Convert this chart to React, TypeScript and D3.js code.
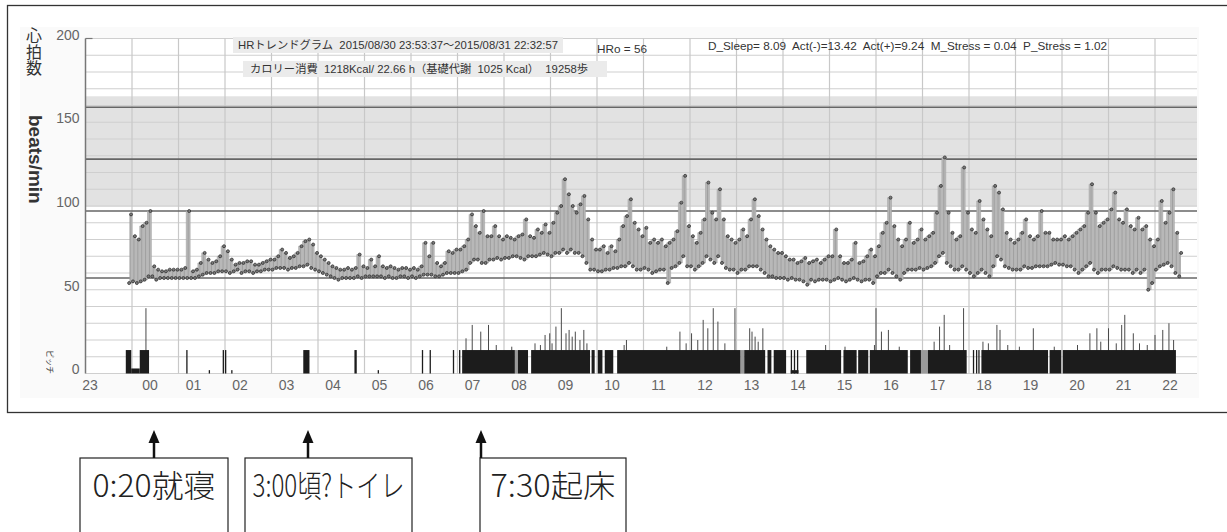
import React, { useEffect, useRef } from 'react';
import * as d3 from 'd3';

// hour labels along the x axis (23:00 -> 22:00 next day)
const hourLabels = ['23', '00', '01', '02', '03', '04', '05', '06', '07', '08', '09', '10', '11', '12', '13', '14', '15', '16', '17', '18', '19', '20', '21', '22'];
const yTickValues = [0, 50, 100, 150, 200];
const gridStep = 10;
const zoneBand = [99.5, 165.5];
const zoneLines = [159, 128, 97, 57];

// heart rate, 5-minute bins starting at hrStart (low / high of each bin)
const hrStart = '23:55';
const hrLow = [
  54,
  55, 54, 55, 56, 58, 58, 56, 57, 57, 57, 57, 57, // 00
  57, 57, 57, 57, 57, 58, 59, 60, 60, 60, 61, 61, // 01
  61, 60, 61, 62, 60, 61, 61, 60, 61, 61, 62, 62, // 02
  62, 63, 63, 63, 62, 63, 63, 64, 64, 65, 63, 62, // 03
  61, 60, 59, 58, 57, 56, 57, 57, 57, 57, 58, 57, // 04
  58, 58, 58, 58, 58, 57, 58, 57, 57, 58, 58, 57, // 05
  58, 57, 58, 59, 59, 59, 58, 58, 59, 60, 60, 60, // 06
  60, 61, 62, 66, 68, 68, 66, 66, 68, 68, 69, 68, // 07
  69, 69, 70, 70, 69, 68, 70, 70, 70, 71, 72, 71, // 08
  70, 72, 72, 74, 72, 74, 72, 72, 70, 66, 62, 62, // 09
  61, 61, 62, 62, 63, 63, 64, 64, 66, 64, 62, 62, // 10
  63, 62, 60, 61, 62, 62, 54, 63, 64, 66, 70, 64, // 11
  64, 62, 64, 66, 70, 68, 66, 70, 66, 63, 62, 62, // 12
  60, 62, 62, 64, 64, 64, 62, 60, 58, 58, 57, 57, // 13
  57, 56, 57, 56, 56, 55, 53, 56, 55, 56, 56, 56, // 14
  55, 56, 57, 56, 55, 56, 57, 56, 55, 56, 56, 54, // 15
  58, 60, 60, 62, 60, 58, 56, 60, 62, 62, 62, 63, // 16
  62, 63, 64, 66, 70, 72, 66, 64, 62, 62, 64, 62, // 17
  60, 58, 60, 62, 60, 58, 64, 70, 68, 64, 63, 62, // 18
  62, 62, 64, 63, 63, 64, 64, 64, 64, 65, 66, 65, // 19
  65, 64, 64, 62, 60, 62, 64, 66, 62, 60, 62, 62, // 20
  62, 64, 63, 62, 62, 62, 60, 62, 60, 62, 50, 54, // 21
  62, 64, 65, 66, 64, 60, 58, // 22
];
const hrHigh = [
  95,
  82, 80, 88, 90, 97, 64, 62, 61, 61, 62, 62, 62, // 00
  62, 63, 97, 61, 62, 66, 72, 68, 66, 67, 70, 76, // 01
  73, 68, 65, 66, 66, 67, 67, 65, 65, 66, 67, 68, // 02
  68, 70, 74, 72, 69, 70, 72, 76, 79, 80, 77, 72, // 03
  70, 68, 66, 64, 63, 62, 62, 63, 62, 63, 71, 64, // 04
  63, 68, 64, 70, 64, 63, 64, 63, 62, 63, 63, 62, // 05
  63, 62, 64, 78, 70, 78, 66, 64, 66, 73, 72, 74, // 06
  74, 76, 80, 95, 88, 84, 97, 82, 82, 88, 82, 80, // 07
  82, 81, 80, 82, 83, 92, 82, 81, 86, 84, 89, 84, // 08
  90, 96, 100, 116, 107, 100, 96, 101, 106, 92, 80, 74, // 09
  74, 76, 72, 76, 73, 80, 88, 94, 104, 90, 86, 82, // 10
  87, 78, 80, 78, 80, 76, 78, 80, 85, 102, 118, 88, // 11
  82, 78, 84, 92, 114, 96, 92, 110, 92, 82, 80, 78, // 12
  80, 86, 82, 92, 104, 94, 86, 80, 76, 74, 72, 72, // 13
  70, 68, 68, 66, 67, 69, 66, 67, 68, 66, 68, 70, // 14
  70, 86, 70, 66, 66, 68, 78, 66, 67, 70, 74, 70, // 15
  76, 84, 90, 105, 88, 80, 76, 80, 90, 78, 80, 86, // 16
  80, 82, 84, 96, 112, 129, 96, 84, 80, 82, 123, 96, // 17
  86, 84, 103, 92, 86, 82, 112, 108, 98, 84, 80, 78, // 18
  80, 84, 92, 82, 80, 82, 97, 84, 84, 80, 80, 80, // 19
  82, 80, 82, 84, 86, 88, 96, 113, 96, 88, 90, 92, // 20
  98, 108, 92, 90, 98, 88, 86, 93, 86, 88, 80, 76, // 21
  80, 103, 90, 96, 110, 84, 72, // 22
];

// step pitch: solid blocks [start, end, height]
const pitchBlocks: [string, string, number][] = [
  ['23:52', '23:59', 14], ['23:59', '00:10', 3], ['00:10', '00:22', 14],
  ['01:10', '01:11', 14], ['01:39', '01:40', 2], ['01:57', '01:58', 14], ['02:00', '02:01', 14], ['02:08', '02:09', 2],
  ['03:41', '03:49', 14], ['04:47', '04:50', 14], ['05:17', '05:18', 2],
  ['06:14', '06:15', 14], ['06:24', '06:25', 14], ['06:54', '06:55', 14], ['07:02', '07:03', 14],
  ['07:06', '08:14', 14], ['08:18', '08:31', 14], ['08:35', '09:51', 14],
  ['09:53', '09:57', 14], ['10:01', '10:07', 14], ['10:10', '10:21', 14], ['10:26', '13:05', 14],
  ['13:10', '13:37', 14], ['13:40', '13:45', 14], ['13:48', '14:04', 14],
  ['14:10', '14:20', 2], ['14:10', '14:11', 14], ['14:14', '14:15', 14], ['14:18', '14:19', 14],
  ['14:30', '15:15', 14], ['15:18', '15:35', 14], ['15:37', '15:50', 14], ['15:52', '16:41', 14],
  ['16:44', '16:58', 14], ['17:07', '17:57', 14],
  ['18:05', '18:06', 14], ['18:09', '18:10', 14], ['18:12', '18:13', 14],
  ['18:16', '19:42', 14], ['19:44', '19:59', 14], ['20:01', '22:27', 14],
];
const pitchGrayBlocks: [string, string, number][] = [
  ['08:14', '08:18', 14], ['16:58', '17:07', 14], ['13:05', '13:10', 14],
];
// step pitch peaks above the blocks [time, value]
const pitchSpikes: [string, number][] = [
  ['00:18', 39], ['07:11', 21], ['07:19', 29], ['07:30', 25], ['07:40', 29], ['07:50', 17],
  ['08:10', 16], ['08:40', 18], ['08:47', 17], ['08:53', 23], ['08:59', 24], ['09:02', 18], ['09:07', 28],
  ['09:14', 39], ['09:20', 24], ['09:24', 26], ['09:28', 22], ['09:32', 25], ['09:38', 20], ['09:43', 26],
  ['09:47', 18], ['10:35', 17], ['10:38', 20], ['11:30', 16], ['11:47', 25], ['11:55', 18], ['12:02', 24],
  ['12:10', 20], ['12:17', 32], ['12:23', 27], ['12:30', 39], ['12:36', 31], ['12:45', 18], ['12:58', 39],
  ['13:17', 27], ['13:20', 25], ['13:24', 22], ['13:28', 19], ['13:34', 27], ['14:55', 17], ['15:20', 16],
  ['15:58', 17], ['16:00', 39], ['16:07', 25], ['16:16', 26], ['16:30', 16], ['17:15', 19], ['17:22', 28],
  ['17:28', 35], ['17:35', 17], ['17:53', 39], ['18:18', 19], ['18:25', 18], ['18:36', 29], ['18:40', 26],
  ['18:50', 17], ['19:05', 16], ['19:23', 27], ['19:50', 16], ['20:20', 17], ['20:36', 24], ['20:45', 27],
  ['20:50', 19], ['21:00', 27], ['21:10', 18], ['21:17', 29], ['21:21', 35], ['21:32', 24], ['21:40', 18],
  ['21:50', 17], ['22:00', 23], ['22:10', 26], ['22:18', 30], ['22:24', 20],
];

const titleLine = 'HRトレンドグラム  2015/08/30 23:53:37～2015/08/31 22:32:57';
const calorieLine = 'カロリー消費  1218Kcal/ 22.66 h（基礎代謝  1025 Kcal）  19258歩';
const hroLine = 'HRo = 56';
const statsLine = 'D_Sleep= 8.09  Act(-)=13.42  Act(+)=9.24  M_Stress = 0.04  P_Stress = 1.02';
const notes = ['0:20就寝', '3:00頃?トイレ', '7:30起床'];

const toHours = (s: string) => {
  const [hh, mm] = s.split(':').map(Number);
  const h = hh + mm / 60;
  return hh === 23 ? h - 23 : h + 1;
};

const App: React.FC = () => {
  const ref = useRef<SVGSVGElement>(null);

  useEffect(() => {
    if (!ref.current) return;
    const svg = d3.select(ref.current);
    svg.selectAll('*').remove();

    const width = 1227;
    const height = 532;
    const plotLeft = 85.5;
    const plotRight = 1197;
    const font = '"Liberation Sans", Arial, "Noto Sans CJK JP", sans-serif';
    const jpFont = '"Liberation Sans", "Noto Sans CJK JP", sans-serif';
    const cjk = '"Noto Sans CJK JP", sans-serif';

    svg.attr('width', width).attr('height', height);

    const x = d3.scaleLinear().domain([0, 24]).range([plotLeft, plotLeft + 46.5 * 24]);
    const y = d3.scaleLinear().domain([0, 200]).range([373.5, 38.5]);

    // outer frame
    svg.append('rect')
      .attr('x', 7.5).attr('y', 5.5).attr('width', 1230).attr('height', 407)
      .attr('fill', '#fff').attr('stroke', '#333').attr('stroke-width', 1.3);

    // light panel
    svg.append('rect')
      .attr('x', 20).attr('y', 27).attr('width', plotRight - 20 + 2).attr('height', 371)
      .attr('fill', '#fafafa');

    const g = svg.append('g');

    g.append('rect')
      .attr('x', plotLeft).attr('y', y(200)).attr('width', plotRight - plotLeft).attr('height', y(0) - y(200))
      .attr('fill', '#fff');

    // gray zone
    g.append('rect')
      .attr('x', plotLeft).attr('y', y(zoneBand[1]))
      .attr('width', plotRight - plotLeft).attr('height', y(zoneBand[0]) - y(zoneBand[1]))
      .attr('fill', '#e2e2e2');

    // horizontal grid
    const levels = d3.range(0, 201, gridStep);
    g.selectAll('.hgrid')
      .data(levels)
      .enter()
      .append('line')
      .attr('x1', plotLeft).attr('x2', plotRight)
      .attr('y1', d => y(d)).attr('y2', d => y(d))
      .attr('stroke', '#cfcfcf').attr('stroke-width', 1.1);

    // vertical hour grid
    g.selectAll('.vgrid')
      .data(hourLabels.slice(1).map((_, i) => i + 1))
      .enter()
      .append('line')
      .attr('x1', d => x(d)).attr('x2', d => x(d))
      .attr('y1', y(200)).attr('y2', y(0))
      .attr('stroke', '#c8c8c8').attr('stroke-width', 1.2);

    // zone lines
    g.selectAll('.zline')
      .data(zoneLines)
      .enter()
      .append('line')
      .attr('x1', plotLeft).attr('x2', plotRight)
      .attr('y1', d => y(d)).attr('y2', d => y(d))
      .attr('stroke', '#666').attr('stroke-width', 1.6);

    // y axis line + top tick
    g.append('line')
      .attr('x1', plotLeft).attr('x2', plotLeft)
      .attr('y1', y(200)).attr('y2', y(0))
      .attr('stroke', '#777').attr('stroke-width', 1.5);
    g.append('line')
      .attr('x1', plotLeft).attr('x2', plotLeft + 7)
      .attr('y1', y(200)).attr('y2', y(200))
      .attr('stroke', '#777').attr('stroke-width', 1.2);

    g.selectAll('.ylab')
      .data(yTickValues)
      .enter()
      .append('text')
      .attr('x', plotLeft - 6)
      .attr('y', d => y(d) + (d === 0 ? 0 : 1))
      .attr('text-anchor', 'end')
      .style('font-family', font)
      .style('font-size', '14px')
      .style('fill', '#666')
      .text(d => String(d));

    g.selectAll('.xlab')
      .data(hourLabels)
      .enter()
      .append('text')
      .attr('x', (_, i) => x(i) + (i === 0 ? 4.5 : i === 1 ? 18 : 15))
      .attr('y', 390)
      .attr('text-anchor', 'middle')
      .style('font-family', font)
      .style('font-size', '14px')
      .style('fill', '#666')
      .text(d => d);

    // pitch
    const clampX = (v: number) => Math.min(v, plotRight);
    g.selectAll('.pgray')
      .data(pitchGrayBlocks)
      .enter()
      .append('rect')
      .attr('x', d => x(toHours(d[0])))
      .attr('width', d => Math.max(1, x(toHours(d[1])) - x(toHours(d[0]))))
      .attr('y', d => y(d[2]))
      .attr('height', d => y(0) - y(d[2]))
      .attr('fill', '#9a9a9a');

    g.selectAll('.pspike')
      .data(pitchSpikes)
      .enter()
      .append('line')
      .attr('x1', d => x(toHours(d[0]))).attr('x2', d => x(toHours(d[0])))
      .attr('y1', y(12)).attr('y2', d => y(d[1]))
      .attr('stroke', '#4a4a4a').attr('stroke-width', 1);

    g.selectAll('.pblock')
      .data(pitchBlocks)
      .enter()
      .append('rect')
      .attr('x', d => x(toHours(d[0])))
      .attr('width', d => Math.max(1.3, clampX(x(toHours(d[1]))) - x(toHours(d[0]))))
      .attr('y', d => y(d[2]))
      .attr('height', d => y(0) - y(d[2]))
      .attr('fill', '#1c1c1c');

    // heart rate: gray band of each 5-min bin with dotted low/high readings
    const t0 = toHours(hrStart);
    const binW = x(5 / 60) - x(0);
    const hr = hrLow.map((lo, i) => ({ t: t0 + (i * 5 + 2.5) / 60, lo, hi: hrHigh[i] }));

    const area = d3.area<{ t: number; lo: number; hi: number }>()
      .x(d => x(d.t))
      .y0(d => y(d.lo))
      .y1(d => y(d.hi))
      .curve(d3.curveStep);
    g.append('path')
      .datum(hr)
      .attr('d', area)
      .attr('fill', '#b8b8b8')
      .attr('stroke', '#a4a4a4')
      .attr('stroke-width', 0.6);

    g.selectAll('.hrbar')
      .data(hr)
      .enter()
      .append('line')
      .attr('x1', d => x(d.t)).attr('x2', d => x(d.t))
      .attr('y1', d => y(d.lo)).attr('y2', d => y(d.hi))
      .attr('stroke', '#999')
      .attr('stroke-width', 0.8);

    const dots: [number, number][] = [];
    hr.forEach(d => {
      dots.push([x(d.t) - binW * 0.25, y(d.lo)]);
      dots.push([x(d.t) + binW * 0.25, y(d.hi)]);
    });
    g.selectAll('.hrdot')
      .data(dots)
      .enter()
      .append('circle')
      .attr('cx', d => d[0])
      .attr('cy', d => d[1])
      .attr('r', 1.5)
      .attr('fill', '#7a7a7a')
      .attr('stroke', '#262626')
      .attr('stroke-width', 0.7);

    // header texts
    svg.append('rect').attr('x', 233).attr('y', 37).attr('width', 330).attr('height', 16).attr('fill', '#ebebeb');
    svg.append('rect').attr('x', 243).attr('y', 61).attr('width', 364).attr('height', 16).attr('fill', '#ebebeb');
    const header = [
      { t: titleLine, x: 238, y: 49, len: 320 },
      { t: calorieLine, x: 250, y: 73, len: 338 },
      { t: hroLine, x: 597, y: 53, len: 50 },
      { t: statsLine, x: 708, y: 50, len: 399 },
    ];
    svg.selectAll('.hdr')
      .data(header)
      .enter()
      .append('text')
      .attr('x', d => d.x)
      .attr('y', d => d.y)
      .attr('textLength', d => d.len)
      .attr('lengthAdjust', 'spacingAndGlyphs')
      .attr('xml:space', 'preserve')
      .style('font-family', jpFont)
      .style('font-size', '11px')
      .style('fill', '#333')
      .style('white-space', 'pre')
      .text(d => d.t);

    // axis titles
    svg.append('text')
      .attr('x', 34).attr('y', 27)
      .style('writing-mode', 'vertical-rl')
      .style('font-family', cjk)
      .style('font-size', '16px')
      .style('letter-spacing', '0.7px')
      .style('fill', '#333')
      .text('心拍数');
    svg.append('text')
      .attr('transform', 'translate(29,115) rotate(90)')
      .style('font-family', font)
      .style('font-size', '19px')
      .style('font-weight', 'bold')
      .style('fill', '#333')
      .text('beats/min');
    svg.append('text')
      .attr('transform', 'translate(47,350) rotate(90)')
      .style('font-family', cjk)
      .style('font-size', '8px')
      .style('fill', '#444')
      .text('ピッチ');

    // annotations below the chart
    const boxes = [
      { x0: 80, x1: 228, ax: 154, len: 123 },
      { x0: 245, x1: 412, ax: 308, len: 152 },
      { x0: 480, x1: 626, ax: 481, len: 125 },
    ];
    boxes.forEach((b, i) => {
      svg.append('rect')
        .attr('x', b.x0).attr('y', 458).attr('width', b.x1 - b.x0).attr('height', 90)
        .attr('fill', '#fff').attr('stroke', '#222').attr('stroke-width', 1.2);
      svg.append('line')
        .attr('x1', b.ax).attr('x2', b.ax).attr('y1', 440).attr('y2', 458)
        .attr('stroke', '#111').attr('stroke-width', 2.5);
      svg.append('path')
        .attr('d', `M${b.ax - 5.5},${443} L${b.ax},${430} L${b.ax + 5.5},${443} Z`)
        .attr('fill', '#111');
      svg.append('text')
        .attr('x', (b.x0 + b.x1) / 2 - b.len / 2).attr('y', 497)
        .attr('textLength', b.len)
        .attr('lengthAdjust', 'spacingAndGlyphs')
        .style('font-family', cjk)
        .style('font-size', '31px')
        .style('font-weight', '300')
        .style('fill', '#222')
        .text(notes[i]);
    });
  }, []);

  return (
    <div style={{ position: 'absolute', left: 0, top: 0 }}>
      <svg ref={ref}></svg>
    </div>
  );
};

export default App;
